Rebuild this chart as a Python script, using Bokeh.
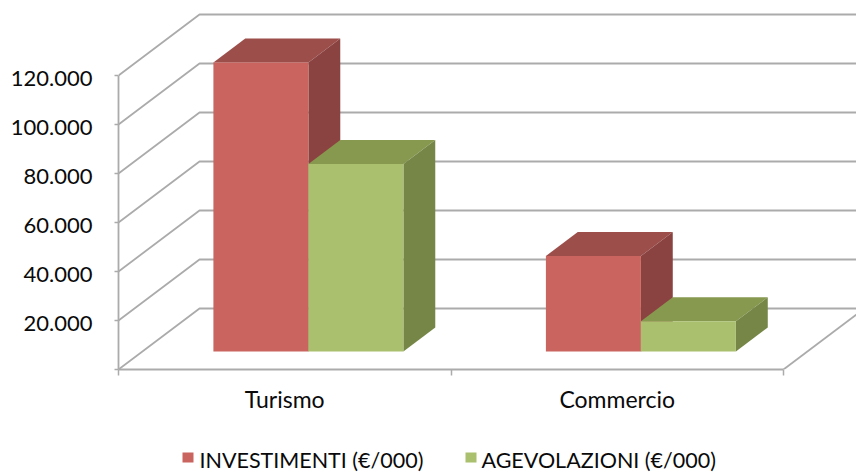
from bokeh.plotting import figure
from bokeh.embed import file_html
from bokeh.resources import INLINE
from bokeh.layouts import column
from bokeh.models import Range1d, FixedTicker, LinearAxis
from bokeh.core.properties import value

categories = ["Turismo", "Commercio"]
investimenti = [118000, 39000]
agevolazioni = [76500, 12300]
y_ticks = [0, 20000, 40000, 60000, 80000, 100000, 120000]
y_labels = ["", "20.000", "40.000", "60.000", "80.000", "100.000", "120.000"]
series_names = ["INVESTIMENTI (€/000)", "AGEVOLAZIONI (€/000)"]

W, H = 856, 474
LEFT, AXIS_Y = 118, 369
TOP_H = 414
CAT_PX = 332.5
VAL_PX = 2.45 / 1000
DEPTH_DX = 81 / CAT_PX
DEPTH_DY = 61 / VAL_PX
BAR_W = 95 / CAT_PX
GAP = 71 / CAT_PX
BAR_D0, BAR_D1 = 18 / 61, 42 / 61
FONT = "Lato"
LABEL_SHIFT = 3 / VAL_PX
RED = ("#C9645F", "#9C4E4A", "#8B4341")
GREEN = ("#AAC06F", "#87994F", "#758647")

p = figure(width=W, height=TOP_H, output_backend="svg", toolbar_location=None,
           frame_width=W - LEFT, frame_height=AXIS_Y,
           x_range=Range1d(0, (W - LEFT) / CAT_PX),
           y_range=Range1d(0, AXIS_Y / VAL_PX),
           min_border_left=LEFT, min_border_right=0, min_border_top=0,
           min_border_bottom=0)
p.extra_y_ranges = {"labels": Range1d(LABEL_SHIFT, AXIS_Y / VAL_PX + LABEL_SHIFT)}
p.outline_line_color = None
p.grid.visible = False
p.background_fill_color = "white"

def proj(x, v, d):
    return x + d * DEPTH_DX, v + d * DEPTH_DY

GRID = "#ABABAB"
for t in y_ticks:
    x0, y0 = proj(0, t, 0)
    x1, y1 = proj(0, t, 1)
    p.line([x0, x1, p.x_range.end], [y0, y1, y1], line_color=GRID, line_width=1.8)
x0, y0 = proj(len(categories), 0, 0)
x1, y1 = proj(len(categories), 0, 1)
p.line([x0, x1], [y0, y1], line_color=GRID, line_width=1.8)

def bar(x, v, colors):
    front, top, side = colors
    d0, d1 = BAR_D0, BAR_D1
    ax, ay = proj(x, v, d0)
    bx, _ = proj(x + BAR_W, v, d0)
    _, base = proj(x, 0, d0)
    cx, cy = proj(x, v, d1)
    ex, _ = proj(x + BAR_W, v, d1)
    _, base2 = proj(x + BAR_W, 0, d1)
    p.patch([ax, bx, ex, cx], [ay, ay, cy, cy], fill_color=top, line_color=None)
    p.patch([bx, ex, ex, bx], [ay, cy, base2, base], fill_color=side, line_color=None)
    p.quad(left=[ax], right=[bx], bottom=[base], top=[ay], fill_color=front, line_color=None)

for i in range(len(categories)):
    x = i + GAP
    bar(x, investimenti[i], RED)
    bar(x + BAR_W, agevolazioni[i], GREEN)

ya = p.yaxis[0]
ya.ticker = FixedTicker(ticks=y_ticks)
ya.major_label_text_color = None
ya.major_label_text_font_size = "1px"
ya.major_label_standoff = 0
ya.bounds = (0, 120000)
ya.axis_line_color = GRID
ya.axis_line_width = 1.8
ya.major_tick_line_color = GRID
ya.major_tick_line_width = 1.5
ya.major_tick_in = 0
ya.major_tick_out = 4
ya.minor_tick_line_color = None

yl = LinearAxis(y_range_name="labels", ticker=FixedTicker(ticks=y_ticks))
yl.major_label_overrides = {t: s for t, s in zip(y_ticks, y_labels)}
yl.axis_line_color = None
yl.major_tick_line_color = None
yl.minor_tick_line_color = None
yl.major_tick_in = 0
yl.major_tick_out = 0
yl.major_label_standoff = 22
yl.major_label_text_font = FONT
yl.major_label_text_font_size = "22px"
yl.major_label_text_color = "#0a0a0a"
p.add_layout(yl, "left")

xa = p.xaxis[0]
centers = [i + 0.5 for i in range(len(categories))]
edges = list(range(len(categories) + 1))
xa.ticker = FixedTicker(ticks=centers, minor_ticks=edges)
xa.major_label_overrides = {c: s for c, s in zip(centers, categories)}
xa.bounds = (0, len(categories))
xa.axis_line_color = GRID
xa.axis_line_width = 1.8
xa.major_tick_line_color = None
xa.minor_tick_line_color = GRID
xa.minor_tick_line_width = 1.5
xa.minor_tick_in = 0
xa.minor_tick_out = 6
xa.major_label_standoff = 9
xa.major_label_text_font = FONT
xa.major_label_text_font_size = "23px"
xa.major_label_text_color = "#0a0a0a"

# legend strip: x and y are pixels of the page; its frame starts at the same left edge as the chart
q = figure(width=W, height=H - TOP_H, output_backend="svg", toolbar_location=None,
           x_range=Range1d(LEFT, W), y_range=Range1d(H, TOP_H),
           min_border_left=0, min_border_right=0, min_border_top=0, min_border_bottom=0)
q.axis.visible = False
q.grid.visible = False
q.outline_line_color = None
q.quad(left=[182, 465], right=[193, 476], top=[451, 451], bottom=[461, 461],
       fill_color=[RED[0], GREEN[0]], line_color=None)
q.text(x=[199, 481], y=[458, 458], text=series_names, text_font=value(FONT),
       text_font_size="21.5px", text_color="#0a0a0a", text_baseline="middle", text_align="left")

open("out.html", "w").write(file_html(column(p, q, spacing=0), INLINE))
